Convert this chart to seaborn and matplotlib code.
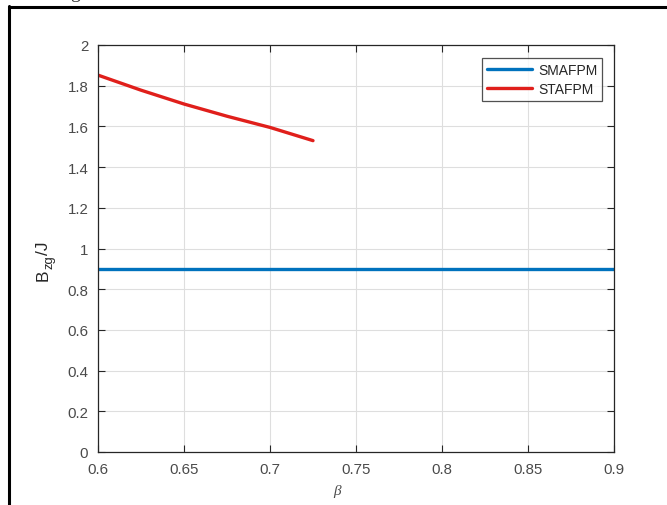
import numpy as np
import pandas as pd
import matplotlib
matplotlib.use("Agg")
import matplotlib.pyplot as plt
import seaborn as sns
from matplotlib.lines import Line2D

# Data
beta_sm = [0.6, 0.9]
bzg_sm = [0.9, 0.9]
beta_st = [0.6, 0.625, 0.65, 0.675, 0.7, 0.725]
bzg_st = [1.852, 1.778, 1.710, 1.650, 1.595, 1.530]
series_names = ["SMAFPM", "STAFPM"]
x_ticks = [0.6, 0.65, 0.7, 0.75, 0.8, 0.85, 0.9]
x_tick_labels = ["0.6", "0.65", "0.7", "0.75", "0.8", "0.85", "0.9"]
y_ticks = [0, 0.2, 0.4, 0.6, 0.8, 1, 1.2, 1.4, 1.6, 1.8, 2]
y_tick_labels = ["0", "0.2", "0.4", "0.6", "0.8", "1", "1.2", "1.4", "1.6", "1.8", "2"]
ylabel_parts = ["B", "zg", "/J"]

df = pd.concat([
    pd.DataFrame({"beta": beta_sm, "val": bzg_sm, "series": series_names[0]}),
    pd.DataFrame({"beta": beta_st, "val": bzg_st, "series": series_names[1]}),
])

sns.set_theme(style="white")
plt.rcParams["font.family"] = ["Liberation Sans", "DejaVu Sans"]

W, H = 667, 506
fig = plt.figure(figsize=(W / 100, H / 100), dpi=100)
fig.patch.set_facecolor("white")
ax = fig.add_axes([98 / W, 1 - 453 / H, (614 - 98) / W, (453 - 46) / H])

palette = {"SMAFPM": "#0072BD", "STAFPM": "#E01F1B"}
sns.lineplot(data=df, x="beta", y="val", hue="series", palette=palette,
             linewidth=2.4, ax=ax, legend=False, sort=False, estimator=None)

ax.set_xlim(0.6, 0.9)
ax.set_ylim(0, 2)
ax.set_xticks(x_ticks)
ax.set_xticklabels(x_tick_labels)
ax.set_yticks(y_ticks)
ax.set_yticklabels(y_tick_labels)
ax.grid(True, color="#dedede", linewidth=0.8)
ax.set_axisbelow(True)
tick_col = "#4a4a4a"
ax.tick_params(axis="both", direction="in", length=5, width=0.8, colors="#262626",
               labelcolor=tick_col, labelsize=10.8, top=True, right=True,
               bottom=True, left=True)
ax.tick_params(axis="x", pad=7)
ax.tick_params(axis="y", pad=7)
for s in ax.spines.values():
    s.set_visible(True)
    s.set_color("#262626")
    s.set_linewidth(0.9)

ax.set_xlabel("")
ax.set_ylabel("")
fig.text(337 / W, 1 - 492 / H, "β", family=["Liberation Serif", "DejaVu Serif"],
         style="italic", fontsize=11, color=tick_col, ha="center", va="center")

# y label built from pieces: B, subscript zg, /J (rotated 90 degrees)
renderer = fig.canvas.get_renderer()
lab_fs = 12.5
base_x = 48.0          # baseline x position (pixels from left)
start_y = H - 281.0    # start of text (pixels from bottom)
cur_y = start_y
sizes = [lab_fs, lab_fs * 0.75, lab_fs]
shifts = [0.0, 4.0, 0.0]
for part, fs, sh in zip(ylabel_parts, sizes, shifts):
    t = fig.text((base_x + sh) / W, cur_y / H, part, rotation=90, rotation_mode="anchor",
                 ha="left", va="baseline", fontsize=fs, color="#262626",
                 family=["Liberation Sans", "DejaVu Sans"])
    bb = t.get_window_extent(renderer=renderer)
    cur_y += bb.height + 0.3

# fragment of caption text cut off at the top of the image
fig.text(75 / W, 1 + 1.5 / H, "g", family=["Liberation Serif", "DejaVu Serif"],
         fontsize=14, color="#333333", ha="center", va="baseline")

handles = [Line2D([], [], color=palette[n], linewidth=2.4) for n in series_names]
leg = ax.legend(handles, series_names, loc="upper right",
                bbox_to_anchor=((602 - 98) / (614 - 98), 1 - (59 - 46) / (453 - 46)),
                frameon=True, fancybox=False, fontsize=10, handlelength=3.3,
                handletextpad=0.4, borderpad=0.35, labelspacing=0.35,
                borderaxespad=0)
leg.get_frame().set_edgecolor("#262626")
leg.get_frame().set_linewidth(0.9)

# outer figure border (left and top visible in reference)
fig.add_artist(Line2D([8.5 / W, 8.5 / W], [0, 1 - 7 / H], color="black", linewidth=2.2,
                      transform=fig.transFigure))
fig.add_artist(Line2D([8.5 / W, 1], [1 - 7.5 / H, 1 - 7.5 / H], color="black", linewidth=2.2,
                      transform=fig.transFigure))

fig.savefig("out.png", dpi=100)
